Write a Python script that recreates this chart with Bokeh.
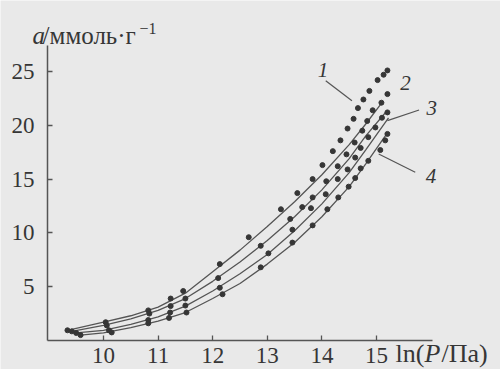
from bokeh.plotting import figure
from bokeh.models import Range1d, Label, FixedTicker
from bokeh.embed import file_html
from bokeh.resources import INLINE

# ---- data ----
x_ticks = [10, 11, 12, 13, 14, 15]
y_ticks = [5, 10, 15, 20, 25]
x_axis_span = (8.974, 16.03)
y_axis_span = (0, 27.42)

# experimental points
x1 = [9.34, 10.04, 10.82, 11.23, 11.46, 12.13, 12.66, 13.25, 13.55, 13.83, 14.01, 14.2, 14.34, 14.47, 14.58, 14.66, 14.76, 14.87, 15.02, 15.13, 15.2]
y1 = [0.95, 1.7, 2.8, 3.9, 4.6, 7.1, 9.6, 12.2, 13.7, 15.0, 16.3, 17.6, 18.6, 19.7, 20.6, 21.6, 22.4, 23.2, 24.2, 24.7, 25.1]
x2 = [9.42, 10.06, 10.84, 11.23, 11.5, 12.1, 12.88, 13.42, 13.64, 13.83, 14.08, 14.29, 14.45, 14.6, 14.74, 14.83, 14.93, 15.09, 15.2]
y2 = [0.85, 1.4, 2.5, 3.2, 3.9, 5.8, 8.8, 11.3, 12.4, 13.3, 14.8, 16.2, 17.3, 18.4, 19.5, 20.4, 21.4, 22.1, 22.9]
x3 = [9.5, 10.1, 10.82, 11.22, 11.5, 12.13, 13.02, 13.46, 13.8, 14.07, 14.29, 14.47, 14.61, 14.71, 14.85, 14.98, 15.1, 15.2]
y3 = [0.7, 0.95, 1.9, 2.6, 3.25, 4.9, 8.1, 10.3, 12.3, 13.6, 15.0, 15.9, 17.0, 17.9, 18.9, 19.8, 20.7, 21.2]
x4 = [9.58, 10.15, 10.82, 11.2, 11.52, 12.18, 12.88, 13.46, 13.83, 14.1, 14.3, 14.49, 14.61, 14.71, 14.85, 15.07, 15.16, 15.2]
y4 = [0.5, 0.75, 1.6, 2.1, 2.6, 4.3, 6.8, 9.1, 10.7, 12.2, 13.3, 14.3, 15.1, 16.0, 16.7, 17.7, 18.6, 19.2]

# calculated curves
cx1 = [9.34, 10, 10.5, 11, 11.5, 12, 12.5, 13, 13.5, 14, 14.5, 14.8, 15.1]
cy1 = [0.95, 1.7, 2.3, 3.1, 4.4, 6.4, 8.4, 10.6, 12.9, 15.4, 18.2, 20.1, 22.1]
cx2 = [9.42, 10, 10.5, 11, 11.5, 12, 12.5, 13, 13.5, 14, 14.5, 14.8, 15.2]
cy2 = [0.85, 1.4, 2.0, 2.8, 3.9, 5.5, 7.3, 9.3, 11.5, 14.0, 16.9, 19.0, 21.4]
cx3 = [9.5, 10, 10.5, 11, 11.5, 12, 12.5, 13, 13.5, 14, 14.5, 14.8, 15.22]
cy3 = [0.7, 0.95, 1.5, 2.2, 3.2, 4.6, 6.2, 8.0, 10.2, 12.7, 15.6, 17.7, 20.7]
cx4 = [9.58, 10, 10.5, 11, 11.5, 12, 12.5, 13, 13.5, 14, 14.5, 14.8, 15.2]
cy4 = [0.5, 0.7, 1.2, 1.8, 2.6, 3.9, 5.3, 7.1, 9.1, 11.5, 14.3, 16.4, 19.3]

curve_labels = ["1", "2", "3", "4"]
label_x = [14.02, 15.53, 16.01, 16.0]
label_y = [25.16, 23.95, 21.63, 15.32]
# leader lines: (x0, y0, x1, y1); None where no leader
leaders = [(14.07, 24.14, 14.55, 22.28), None, (15.78, 21.42, 15.2, 20.43), (15.71, 15.63, 15.04, 17.33)]

INK = "#363636"
LINE = "#555555"
BG = "#e9e9e9"
SERIF = "Liberation Serif"

# the plotting frame fills the whole figure; axes are pinned at data positions
p = figure(width=500, height=369, x_range=Range1d(8.1136, 17.271), y_range=Range1d(-2.695, 31.60),
           output_backend="svg", toolbar_location=None, min_border=0)
p.title.visible = False
p.background_fill_color = BG
p.border_fill_color = BG
p.outline_line_color = None
p.xgrid.visible = False
p.ygrid.visible = False

for ax, ticks in ((p.xaxis, x_ticks), (p.yaxis, y_ticks)):
    ax.ticker = FixedTicker(ticks=ticks)
    ax.axis_line_color = LINE
    ax.axis_line_width = 1.5
    ax.major_tick_line_color = LINE
    ax.major_tick_line_width = 1.3
    ax.major_tick_in = 5
    ax.major_tick_out = 0
    ax.minor_tick_line_color = None
    ax.major_label_text_font = SERIF
    ax.major_label_text_font_size = "23px"
    ax.major_label_text_color = INK
p.xaxis.fixed_location = y_axis_span[0]
p.xaxis.bounds = x_axis_span
p.yaxis.fixed_location = x_axis_span[0]
p.yaxis.bounds = y_axis_span
p.xaxis.major_label_standoff = 7
p.yaxis.major_label_standoff = 13

for cx, cy in ((cx1, cy1), (cx2, cy2), (cx3, cy3), (cx4, cy4)):
    p.line(cx, cy, line_color=LINE, line_width=1.3)
for xs, ys in ((x1, y1), (x2, y2), (x3, y3), (x4, y4)):
    p.scatter(xs, ys, size=5, fill_color=INK, line_color=INK, marker="circle")

for t, lx, ly, ld in zip(curve_labels, label_x, label_y, leaders):
    p.add_layout(Label(x=lx, y=ly, text=t, text_font=SERIF, text_font_style="italic",
                       text_font_size="21px", text_color=INK, text_align="center",
                       text_baseline="alphabetic"))
    if ld is not None:
        p.line([ld[0], ld[2]], [ld[1], ld[3]], line_color=LINE, line_width=1.2)


def lab(x, y, text, size, style="normal"):
    p.add_layout(Label(x=x, y=y, text=text, text_font=SERIF, text_font_style=style,
                       text_font_size=size, text_color=INK, text_baseline="alphabetic"))


# y-axis title: a/ммоль·г^-1
lab(8.70, 28.32, "a", "25px", "italic")
lab(8.885, 28.32, "/ммоль·г", "25px")
lab(10.66, 28.97, "−1", "16px")

# x-axis title: ln(P/Па)
lab(15.348, -1.21, "ln(", "26px")
lab(15.88, -1.21, "P", "26px", "italic")
lab(16.19, -1.21, "/Па)", "26px")

open("out.html", "w").write(file_html(p, INLINE))
